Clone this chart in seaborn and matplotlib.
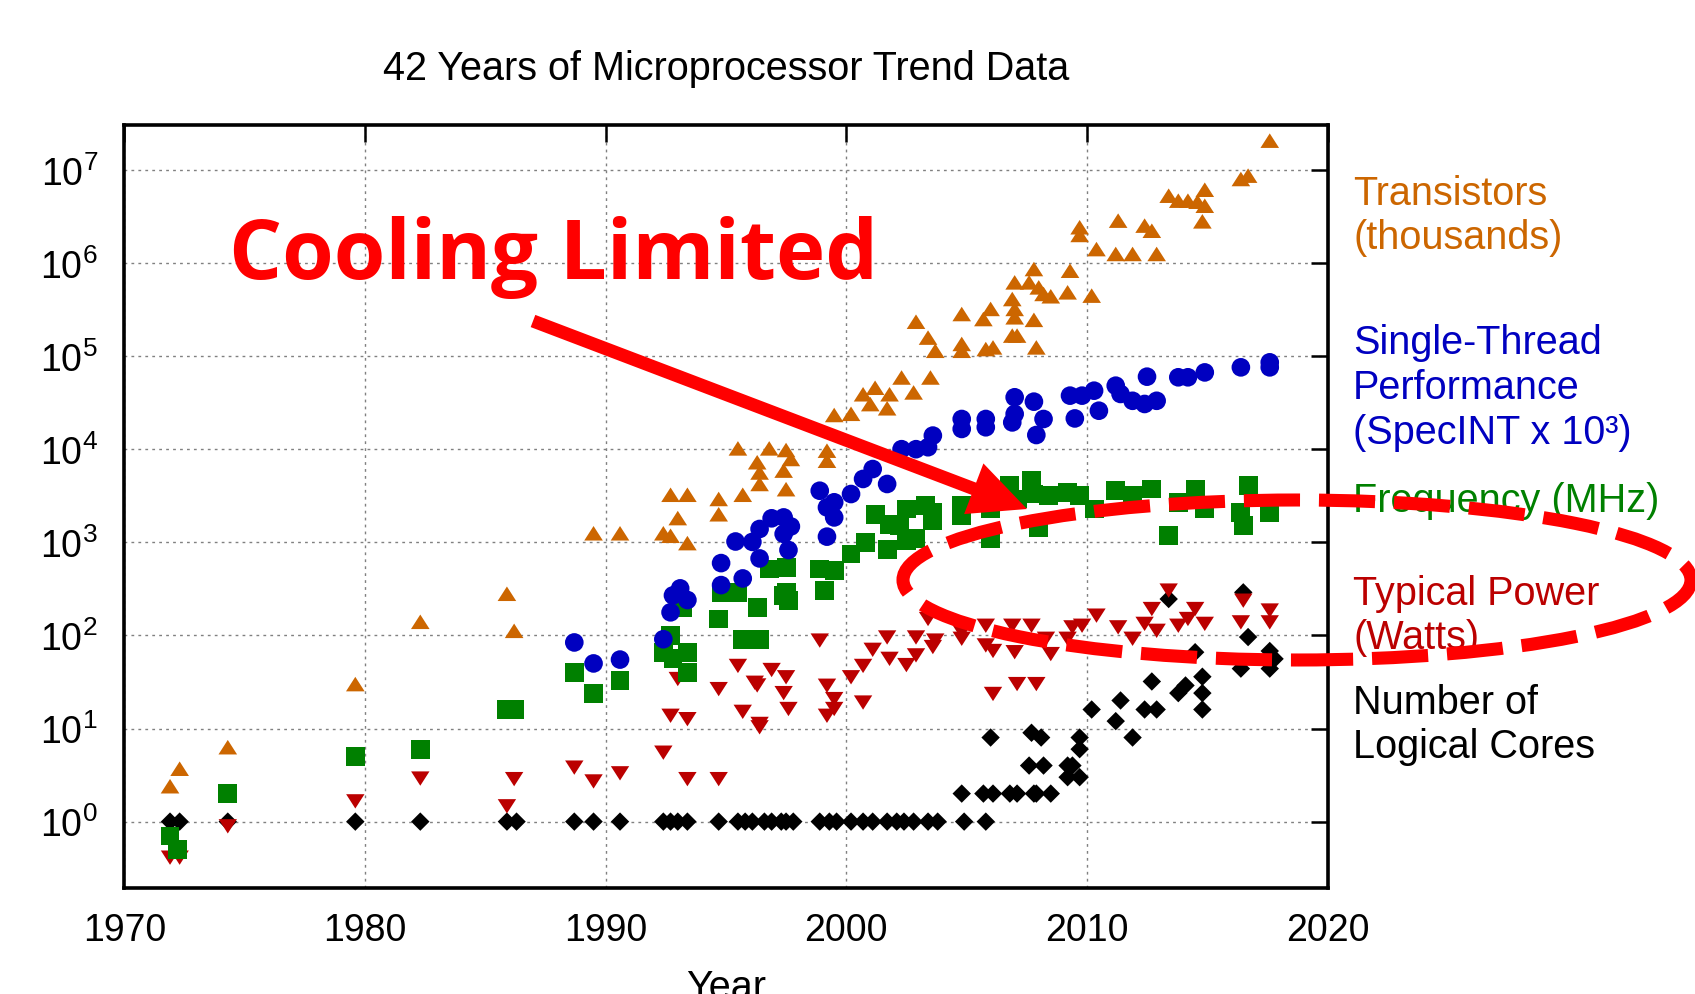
import matplotlib
matplotlib.use('Agg')
import matplotlib.pyplot as plt
import numpy as np
import pandas as pd
import seaborn as sns
from matplotlib.patches import Ellipse, FancyArrowPatch
from matplotlib.ticker import MultipleLocator, NullLocator

# ---- data --------------------------------------------------------------
tr_years = [1971.9, 1972.3, 1974.3, 1979.6, 1982.3, 1985.9, 1986.2, 1989.5, 1990.6,
            1992.4, 1992.7, 1993.4, 1992.7, 1993.4, 1993.0, 1994.7, 1994.7, 1995.7,
            1995.5, 1996.8, 1997.5, 1997.7, 1996.3, 1996.4, 1997.4, 1996.4, 1997.5,
            1999.2, 1999.2, 1999.5, 2000.2, 2000.7, 2001.2, 2001.8, 2001.7, 2001.0,
            2002.3, 2002.8, 2003.5, 2002.9, 2003.4, 2003.7, 2004.8, 2004.8, 2004.8,
            2006.0, 2005.7, 2005.8, 2006.1, 2006.9, 2007.0, 2007.0, 2006.9, 2007.1,
            2007.0, 2007.8, 2007.6, 2008.0, 2008.2, 2008.5, 2007.8, 2007.9, 2009.3,
            2009.2, 2009.7, 2009.7, 2010.2, 2010.4, 2011.2, 2011.9, 2012.9, 2011.3,
            2012.4, 2012.7, 2013.4, 2013.8, 2014.2, 2014.6, 2014.9, 2014.9, 2014.8,
            2016.4, 2016.7, 2017.6]
tr_values = [2.4, 3.7, 6.3, 30, 140, 280, 112, 1250, 1250,
             1250, 1175, 980, 3240, 3240, 1820, 2920, 2000, 3240,
             10200, 10200, 9800, 7850, 7240, 5620, 5890, 4230, 3720,
             9640, 7520, 23300, 24000, 38900, 45700, 38900, 27500, 30500,
             58900, 40700, 58900, 234000, 158000, 114000, 283000, 135000, 114000,
             321000, 250000, 119000, 124000, 410000, 321000, 261000, 166000, 166000,
             619000, 861000, 619000, 547000, 465000, 439000, 245000, 124000, 826000,
             484000, 2420000, 2000000, 446000, 1410000, 1250000, 1250000, 1250000, 2850000,
             2520000, 2220000, 5280000, 4670000, 4670000, 4550000, 6120000, 4120000, 2800000,
             7980000, 8670000, 20600000]

perf_years = [1988.7, 1989.5, 1990.6, 1992.4, 1992.7, 1992.8, 1993.1, 1993.4, 1994.8,
              1994.8, 1995.7, 1995.4, 1996.1, 1996.4, 1996.4, 1996.9, 1997.4, 1997.7,
              1997.4, 1997.6, 1998.9, 1999.2, 1999.5, 1999.5, 1999.2, 2000.2, 2000.7,
              2001.1, 2001.7, 2002.3, 2002.9, 2003.4, 2003.6, 2004.8, 2004.8, 2005.8,
              2005.8, 2006.9, 2007.0, 2007.0, 2007.8, 2008.2, 2007.9, 2009.3, 2009.8,
              2010.3, 2009.5, 2010.5, 2011.2, 2011.4, 2011.9, 2012.4, 2012.9, 2012.5,
              2013.8, 2014.2, 2014.9, 2016.4, 2017.6, 2017.6]
perf_values = [84, 50, 55, 91, 177, 269, 320, 240, 598,
               347, 409, 1020, 1010, 1390, 671, 1810, 1850, 1480,
               1230, 826, 3580, 2370, 2690, 1850, 1150, 3300, 4790,
               6120, 4230, 10000, 10000, 10500, 14000, 21100, 16500, 21100,
               17200, 19400, 23900, 36100, 32400, 21100, 14200, 37600, 37600,
               42500, 21400, 25900, 48100, 39200, 33100, 30600, 33100, 60100,
               59200, 59200, 66800, 75700, 85700, 75700]

freq_years = [1971.9, 1972.2, 1974.3, 1979.6, 1982.3, 1985.9, 1986.2, 1988.7, 1989.5,
              1990.6, 1992.7, 1992.4, 1992.8, 1993.4, 1993.4, 1993.2, 1994.7, 1994.8,
              1995.5, 1996.3, 1995.7, 1996.4, 1996.8, 1997.5, 1997.5, 1997.6, 1997.4,
              1998.9, 1999.5, 1999.1, 2000.2, 2001.2, 2001.8, 2000.8, 2001.7, 2002.2,
              2002.5, 2002.5, 2002.9, 2003.3, 2003.6, 2003.6, 2004.8, 2004.8, 2006.0,
              2006.0, 2006.8, 2007.1, 2007.7, 2007.8, 2008.0, 2008.4, 2009.2, 2009.7,
              2010.3, 2011.2, 2011.9, 2012.7, 2013.4, 2013.8, 2014.5, 2014.9, 2016.7,
              2016.4, 2016.5, 2017.6]
freq_values = [0.7, 0.5, 2.0, 5.0, 6.0, 16, 16, 40, 24,
               33, 99, 66, 56, 66, 40, 200, 150, 290,
               290, 200, 91, 91, 516, 538, 290, 236, 267,
               516, 495, 302, 748, 2010, 1570, 1000, 845, 1510,
               2280, 1040, 1090, 2480, 2100, 1710, 2480, 1930, 2280,
               1090, 4060, 2920, 4590, 3300, 1450, 3170, 3440, 3170,
               2280, 3590, 3170, 3740, 1180, 2690, 3740, 2280, 4060,
               2100, 1510, 2100]

power_years = [1971.9, 1972.3, 1974.3, 1979.6, 1982.3, 1985.9, 1986.2, 1988.7, 1989.5,
               1990.6, 1992.4, 1992.7, 1993.4, 1993.0, 1993.4, 1994.7, 1994.7, 1995.5,
               1995.7, 1996.2, 1996.3, 1996.4, 1996.4, 1996.9, 1997.5, 1997.4, 1997.6,
               1998.9, 1999.2, 1999.5, 1999.2, 1999.5, 2000.2, 2000.7, 2000.7, 2001.1,
               2001.7, 2001.8, 2002.5, 2002.9, 2002.9, 2003.4, 2003.6, 2003.7, 2004.8,
               2004.8, 2005.8, 2005.8, 2006.1, 2006.1, 2006.9, 2007.0, 2007.1, 2007.7,
               2007.9, 2008.5, 2008.3, 2009.2, 2009.4, 2009.8, 2010.4, 2011.3, 2011.9,
               2012.4, 2012.7, 2012.9, 2013.4, 2013.8, 2014.2, 2014.5, 2014.9, 2016.4,
               2016.5, 2017.6, 2017.6]
power_values = [0.41, 0.41, 0.89, 1.65, 2.9, 1.46, 2.86, 3.8, 2.7,
                3.3, 5.5, 13.7, 12.6, 34, 2.86, 2.86, 26.5, 47,
                15.1, 31, 29, 10.3, 11.2, 42.5, 35.5, 24, 16.2,
                88, 28.8, 20.7, 13.7, 16.2, 35.5, 19, 47, 70,
                95, 56, 48, 61, 95, 150, 75, 88, 92,
                108, 127, 78, 68, 23.5, 127, 66, 30, 127,
                30, 63, 92, 92, 122, 127, 163, 122, 92,
                133, 192, 112, 303, 127, 150, 192, 133, 138,
                236, 138, 185]

core_years = [1971.9, 1972.3, 1974.3, 1979.6, 1982.3, 1985.9, 1986.3, 1988.7, 1989.5,
              1990.6, 1992.4, 1992.7, 1993.0, 1993.4, 1994.7, 1995.5, 1995.8, 1996.1,
              1996.6, 1996.9, 1997.3, 1997.5, 1997.8, 1998.9, 1999.3, 1999.6, 2000.2,
              2000.7, 2001.1, 2001.7, 2002.1, 2002.4, 2002.8, 2003.4, 2003.8, 2004.9,
              2005.8,
              2004.8, 2005.7, 2006.1, 2006.8, 2007.1, 2007.8, 2007.9, 2008.5,
              2007.6, 2008.2, 2009.2, 2009.4, 2009.2, 2009.7, 2009.7, 2009.7,
              2006.0, 2007.7, 2008.1, 2010.2, 2011.2, 2011.4, 2011.9, 2012.4, 2012.9,
              2012.7, 2013.8, 2014.1, 2014.8, 2014.8, 2014.8, 2014.5, 2013.4,
              2016.7, 2016.5, 2016.4, 2017.6, 2017.6, 2017.8]
core_values = [1] * 37 + \
              [2, 2, 2, 2, 2, 2, 2, 2,
               4, 4, 4, 4, 3, 3, 6, 8,
               8, 9, 8, 16, 12, 20, 8, 16, 16,
               32, 24, 29, 36, 24, 16, 66, 246,
               96, 290, 44, 68, 44, 56]

decades = 10.0 ** np.arange(0, 8)

label_text = ['Transistors\n(thousands)',
              'Single-Thread\nPerformance\n(SpecINT x 10³)',
              'Frequency (MHz)',
              'Typical Power\n(Watts)',
              'Number of\nLogical Cores']
label_colors = ['#CC6600', '#0000C0', '#008000', '#BB0000', '#000000']

# ---- style ---------------------------------------------------------------
sns.set_style('white')
plt.rcParams['font.family'] = ['Liberation Sans', 'DejaVu Sans']
plt.rcParams['mathtext.fontset'] = 'custom'
plt.rcParams['mathtext.rm'] = 'Liberation Sans'
plt.rcParams['mathtext.it'] = 'Liberation Sans:italic'
for key in ['text.color', 'axes.labelcolor', 'xtick.color', 'ytick.color', 'axes.edgecolor']:
    plt.rcParams[key] = 'black'

W, H = 1695, 995
fig = plt.figure(figsize=(W / 100, H / 100), dpi=100)
ax = fig.add_axes([124.3 / W, 1 - 889 / H, (1327.5 - 124.3) / W, (889 - 126) / H])
ax.set_yscale('log')

up_tri = [(0, 0.78), (-1, -0.78), (1, -0.78)]
down_tri = [(0, -0.78), (-1, 0.78), (1, 0.78)]

series = [
    (core_years, core_values, 'D', label_colors[4], 88),
    (power_years, power_values, down_tri, label_colors[3], 175),
    (freq_years, freq_values, 's', label_colors[2], 185),
    (tr_years, tr_values, up_tri, label_colors[0], 180),
    (perf_years, perf_values, 'o', label_colors[1], 180),
]
for yrs, vals, mk, col, sz in series:
    df = pd.DataFrame({'Year': yrs, 'Value': vals})
    sns.scatterplot(data=df, x='Year', y='Value', ax=ax, marker=mk, color=col,
                    s=sz, linewidth=0, edgecolor='none', zorder=3)

ax.set_xlim(1970, 2020)
ax.set_ylim(10 ** -0.713, 10 ** 7.482)
ax.xaxis.set_major_locator(MultipleLocator(10))
ax.set_yticks(decades)
ax.yaxis.set_minor_locator(NullLocator())
ax.set_xlabel('')
ax.set_ylabel('')

ax.grid(True, which='major', linestyle=(0, (2, 3)), color='#808080', linewidth=1.0)
ax.tick_params(axis='both', which='major', direction='in', length=12, width=1.8,
               top=True, right=True, labelsize=27, color='black', labelcolor='black')
ax.tick_params(axis='x', pad=17)
ax.tick_params(axis='y', pad=19)
for sp in ax.spines.values():
    sp.set_linewidth(2.6)
    sp.set_color('black')

ax.set_title('42 Years of Microprocessor Trend Data', fontsize=28.5, pad=33, color='black')
fig.text((124.3 + 1327.5) / 2 / W, -0.004, 'Year', ha='center', va='baseline', fontsize=28.5)

# right-hand series labels
label_y = [216, 388, 501, 616, 725]
for txt, col, yy in zip(label_text, label_colors, label_y):
    fig.text(1353 / W, 1 - yy / H, txt, color=col, fontsize=28.5,
             ha='left', va='center', linespacing=1.22)

# annotation
fig.text(229 / W, 1 - 279 / H, 'Cooling Limited', color='red', fontsize=60,
         fontweight='bold', family=['Open Sans', 'DejaVu Sans'],
         ha='left', va='baseline', zorder=10)

arrow = FancyArrowPatch(posA=(533 / 100, (H - 322) / 100), posB=(1027 / 100, (H - 510) / 100),
                        transform=fig.dpi_scale_trans,
                        arrowstyle='simple,head_length=41,head_width=39,tail_width=9.4',
                        mutation_scale=1, color='red', linewidth=0,
                        shrinkA=0, shrinkB=0, zorder=10)
fig.add_artist(arrow)

ell = Ellipse((1297 / 100, (H - 581) / 100), 7.88, 1.60, transform=fig.dpi_scale_trans,
              fill=False, edgecolor='red', linewidth=9.4, linestyle=(0, (4.3, 1.45)),
              zorder=11, clip_on=False)
fig.add_artist(ell)

fig.savefig('out.png', dpi=100)
